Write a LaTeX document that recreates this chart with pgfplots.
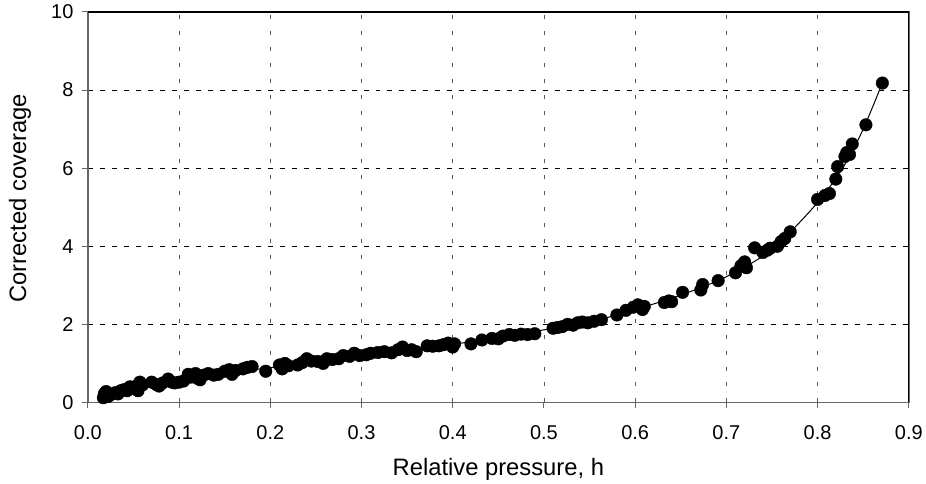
\documentclass[border=0pt]{standalone}
\usepackage{pgfplots}
\pgfplotsset{compat=1.18}
\usepackage{fontspec}
\setmainfont{Liberation Sans}

\begin{document}
\begin{tikzpicture}
  \begin{axis}[%
      scale only axis,
      width=822pt, height=391pt,
      xmin=0, xmax=0.9, ymin=0, ymax=10,
      xtick={0,0.1,...,0.9}, ytick={0,2,...,10},
      xticklabel style={yshift=-14pt, /pgf/number format/fixed,
        /pgf/number format/fixed zerofill, /pgf/number format/precision=1},
      /pgf/number format/assume math mode=true,
      ticklabel style={font=\fontsize{20}{22}\selectfont},
      yticklabel style={xshift=-5pt},
      xlabel={Relative pressure, h},
      ylabel={Corrected coverage},
      every axis x label/.style={at={([yshift=-67pt]rel axis cs:0.5,0)}, anchor=center,
        font=\fontsize{23.8}{27}\selectfont},
      every axis y label/.style={at={([xshift=-68pt,yshift=9pt]rel axis cs:0,0.5)}, anchor=center,
        rotate=90, font=\fontsize{23.8}{27}\selectfont},
      tick pos=left, tick align=outside,
      major tick length=6pt,
      tick style={gray!80!black, line width=1pt},
      axis line style={gray!80!black, line width=1.6pt},
      xmajorgrids, ymajorgrids,
      x grid style={gray!70!black, dash pattern=on 4pt off 12pt, line width=0.7pt},
      y grid style={black, dash pattern=on 5pt off 7pt, line width=0.7pt},
      clip=false,
    ]
    % fitted curve
    \addplot[black, line width=1pt, smooth] coordinates {
      (0.017,0.14) (0.05,0.36) (0.1,0.56) (0.15,0.75) (0.2,0.89)
      (0.25,1.04) (0.3,1.2) (0.35,1.35) (0.4,1.49) (0.45,1.66)
      (0.5,1.86) (0.55,2.06) (0.6,2.38) (0.65,2.75) (0.7,3.22)
      (0.75,3.92) (0.8,5.12) (0.83,6.1) (0.85,7.0) (0.871,8.18)
    };
    % measured points
    \addplot[only marks, mark=*, mark size=6.3pt, black] coordinates {
      (0.017,0.12) (0.018,0.22) (0.02,0.28) (0.022,0.15) (0.025,0.2)
      (0.03,0.25) (0.033,0.22) (0.036,0.3) (0.04,0.33) (0.043,0.3)
      (0.046,0.4) (0.05,0.36) (0.053,0.42) (0.055,0.3) (0.057,0.52)
      (0.06,0.45) (0.07,0.52) (0.075,0.46) (0.078,0.42) (0.082,0.5)
      (0.088,0.6) (0.092,0.52) (0.095,0.5) (0.1,0.52) (0.105,0.55)
      (0.11,0.72) (0.113,0.65) (0.118,0.74) (0.12,0.62) (0.123,0.58)
      (0.127,0.7) (0.132,0.74) (0.138,0.7) (0.143,0.72) (0.15,0.8)
      (0.155,0.84) (0.158,0.72) (0.162,0.82) (0.17,0.86) (0.175,0.9)
      (0.18,0.92) (0.195,0.8) (0.21,0.96) (0.213,0.86) (0.216,1.0)
      (0.22,0.94) (0.23,0.96) (0.235,1.02) (0.24,1.12) (0.245,1.06)
      (0.252,1.05) (0.258,1.0) (0.262,1.12) (0.268,1.1) (0.275,1.12)
      (0.28,1.2) (0.287,1.18) (0.292,1.26) (0.298,1.2) (0.305,1.22)
      (0.31,1.26) (0.318,1.28) (0.325,1.3) (0.333,1.27) (0.34,1.35)
      (0.345,1.42) (0.35,1.33) (0.355,1.35) (0.36,1.3) (0.372,1.45)
      (0.378,1.44) (0.385,1.45) (0.39,1.48) (0.395,1.52) (0.4,1.42)
      (0.402,1.5) (0.42,1.5) (0.432,1.6) (0.443,1.64) (0.45,1.63)
      (0.455,1.7) (0.462,1.74) (0.468,1.72) (0.475,1.75) (0.482,1.74)
      (0.49,1.76) (0.51,1.9) (0.515,1.92) (0.52,1.94) (0.526,2.0)
      (0.532,1.98) (0.537,2.04) (0.542,2.06) (0.548,2.04) (0.555,2.08)
      (0.563,2.12) (0.58,2.24) (0.59,2.36) (0.598,2.44) (0.603,2.5)
      (0.61,2.46) (0.608,2.38) (0.632,2.56) (0.637,2.6) (0.64,2.58)
      (0.652,2.82) (0.672,2.88) (0.674,3.02) (0.691,3.12) (0.71,3.32)
      (0.716,3.5) (0.72,3.6) (0.722,3.45) (0.731,3.96) (0.74,3.84)
      (0.745,3.9) (0.748,3.95) (0.756,4.0) (0.76,4.12) (0.764,4.2)
      (0.77,4.37) (0.8,5.2) (0.808,5.3) (0.813,5.35) (0.82,5.72)
      (0.822,6.04) (0.83,6.3) (0.832,6.4) (0.835,6.35) (0.838,6.62)
      (0.853,7.11) (0.871,8.18)
    };
    % top and right frame lines are black
    \draw[black, line width=1.2pt] (rel axis cs:0,1) -- (rel axis cs:1,1) -- (rel axis cs:1,0);
    % page extent as in the reference
    \path ([xshift=-88pt,yshift=12pt]rel axis cs:0,1) ([xshift=16pt,yshift=-79pt]rel axis cs:1,0);
  \end{axis}
\end{tikzpicture}
\end{document}
